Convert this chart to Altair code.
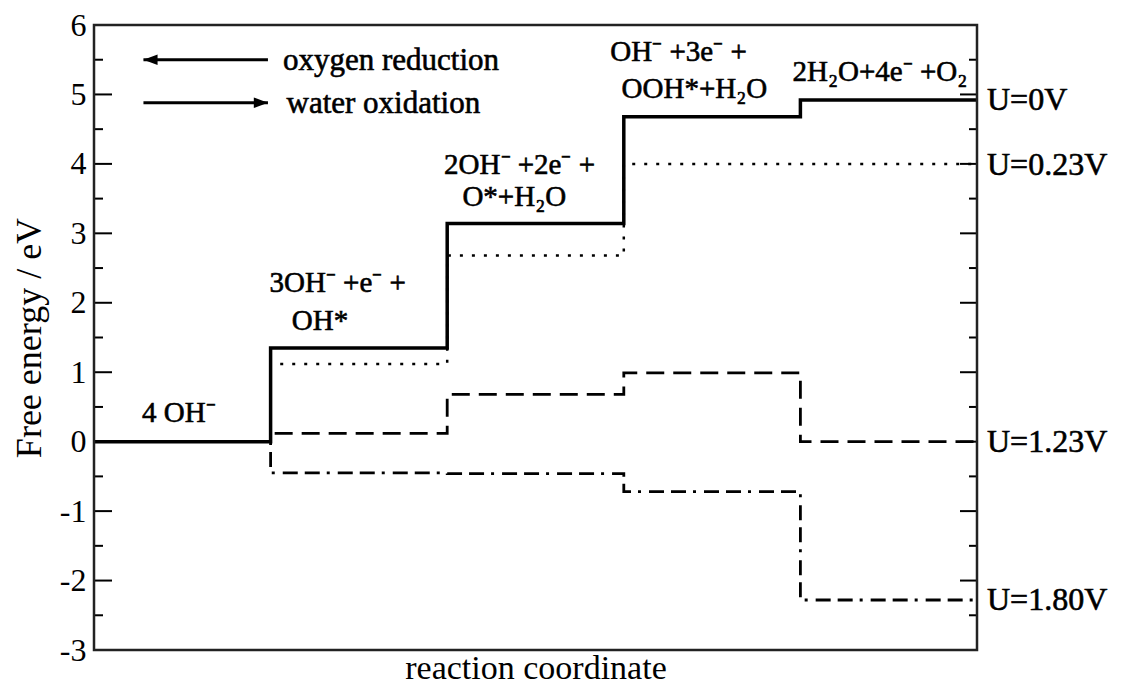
import altair as alt
import pandas as pd

# ---------------- data ----------------
steps = [0, 1, 2, 3, 4, 5]                    # reaction coordinate (step boundaries)
g_u0 = [0.0, 1.35, 3.14, 4.68, 4.92]          # U = 0 V
g_u023 = [0.0, 1.12, 2.68, 4.00, 4.00]        # U = 0.23 V
g_u123 = [0.0, 0.12, 0.68, 0.99, 0.00]        # U = 1.23 V
g_u180 = [0.0, -0.45, -0.46, -0.72, -2.28]    # U = 1.80 V

y_major = [-3, -2, -1, 0, 1, 2, 3, 4, 5, 6]
y_minor = [-2.5, -1.5, -0.5, 0.5, 1.5, 2.5, 3.5, 4.5, 5.5]

state_text = ["4 OH⁻", "3OH⁻ +e⁻ +", "OH*", "2OH⁻ +2e⁻ +", "O*+H₂O",
              "OH⁻ +3e⁻ +", "OOH*+H₂O", "2H₂O+4e⁻ +O₂"]
state_x = [0.48, 1.38, 1.28, 2.41, 2.38, 3.31, 3.40, 4.45]
state_y = [0.41, 2.28, 1.74, 3.98, 3.52, 5.61, 5.08, 5.33]

pot_text = ["U=0V", "U=0.23V", "U=1.23V", "U=1.80V"]
pot_y = [4.92, 3.98, 0.0, -2.28]

legend_text = ["oxygen reduction", "water oxidation"]
legend_y = [5.50, 4.88]

FONT = "Liberation Serif"
W, H = 883, 625

xs = alt.Scale(domain=[0, 5], nice=False, zero=False)
ys = alt.Scale(domain=[-3, 6], nice=False, zero=False)


def series_df(levels):
    return pd.DataFrame({"x": steps, "y": levels + [levels[-1]]})


def step_line(levels, dash, width):
    kw = dict(interpolate="step-after", color="black", strokeWidth=width, strokeCap="butt")
    if dash:
        kw["strokeDash"] = dash
    return alt.Chart(series_df(levels)).mark_line(**kw).encode(
        x=alt.X("x:Q", scale=xs,
                axis=alt.Axis(title="reaction coordinate", labels=False, ticks=False,
                              domain=False, grid=False, titleFont=FONT,
                              titleFontSize=34, titleFontWeight="normal",
                              titleColor="black", titlePadding=1)),
        y=alt.Y("y:Q", scale=ys,
                axis=alt.Axis(title="Free energy / eV", values=y_major, ticks=False,
                              domain=False, grid=False, labelFont=FONT,
                              labelFontSize=32, labelColor="black", labelPadding=8,
                              labelExpr="toString(datum.value)",
                              titleFont=FONT, titleFontSize=36,
                              titleFontWeight="normal", titleColor="black",
                              titlePadding=11)),
    )


l180 = step_line(g_u180, [15, 7, 15, 7, 3, 8], 2.8)
l123 = step_line(g_u123, [18, 9], 2.8)
l023 = step_line(g_u023, [3, 9], 2.5)
l0 = step_line(g_u0, None, 3.5)

# plot frame
frame = alt.Chart(pd.DataFrame({"k": [0]})).mark_rect(
    fill=None, stroke="#222222", strokeWidth=2.5
).encode(x=alt.value(0), x2=alt.value(W), y=alt.value(0), y2=alt.value(H))

# inward ticks on both vertical sides
maj = pd.DataFrame({"v": y_major})
mnr = pd.DataFrame({"v": y_minor})
ticks = (
    alt.Chart(maj).mark_rule(color="black", strokeWidth=2).encode(
        y=alt.Y("v:Q", scale=ys), x=alt.value(0), x2=alt.value(18))
    + alt.Chart(mnr).mark_rule(color="black", strokeWidth=2).encode(
        y=alt.Y("v:Q", scale=ys), x=alt.value(0), x2=alt.value(9))
    + alt.Chart(maj).mark_rule(color="black", strokeWidth=2).encode(
        y=alt.Y("v:Q", scale=ys), x=alt.value(W - 17), x2=alt.value(W))
    + alt.Chart(mnr).mark_rule(color="black", strokeWidth=2).encode(
        y=alt.Y("v:Q", scale=ys), x=alt.value(W - 8), x2=alt.value(W))
)

# legend arrows
arr = pd.DataFrame({"x0": [0.28, 0.28], "x1": [0.985, 0.985], "y": legend_y})
arrow_lines = alt.Chart(arr).mark_rule(color="black", strokeWidth=3).encode(
    x=alt.X("x0:Q", scale=xs), x2="x1:Q", y=alt.Y("y:Q", scale=ys))
head_l = alt.Chart(pd.DataFrame({"x": [0.32], "y": [legend_y[0]]})).mark_point(
    shape="M -1 0 L 1 -0.75 L 1 0.75 Z", filled=True, color="black", size=200, opacity=1
).encode(x=alt.X("x:Q", scale=xs), y=alt.Y("y:Q", scale=ys))
head_r = alt.Chart(pd.DataFrame({"x": [0.945], "y": [legend_y[1]]})).mark_point(
    shape="M 1 0 L -1 -0.75 L -1 0.75 Z", filled=True, color="black", size=200, opacity=1
).encode(x=alt.X("x:Q", scale=xs), y=alt.Y("y:Q", scale=ys))

TXT = dict(font=FONT, color="black", stroke="black", strokeWidth=0.6)

leg_txt = alt.Chart(pd.DataFrame({"t": legend_text, "x": [1.07, 1.09], "y": legend_y})).mark_text(
    fontSize=31, align="left", baseline="middle", dy=1, **TXT
).encode(x=alt.X("x:Q", scale=xs), y=alt.Y("y:Q", scale=ys), text="t:N")

state_lbl = alt.Chart(pd.DataFrame({"t": state_text, "x": state_x, "y": state_y})).mark_text(
    fontSize=29, align="center", baseline="middle", **TXT
).encode(x=alt.X("x:Q", scale=xs), y=alt.Y("y:Q", scale=ys), text="t:N")

pot_lbl = alt.Chart(pd.DataFrame({"t": pot_text, "x": [5.0] * 4, "y": pot_y})).mark_text(
    fontSize=32, align="left", baseline="middle", dx=10, **TXT
).encode(x=alt.X("x:Q", scale=xs), y=alt.Y("y:Q", scale=ys), text="t:N")

chart = alt.layer(
    l180, l123, l023, l0, ticks, frame, arrow_lines, head_l, head_r,
    leg_txt, state_lbl, pot_lbl
).properties(
    width=W, height=H,
    background="white",
    autosize=alt.AutoSizeParams(type="none"),
    padding={"left": 86, "top": 17, "right": 137, "bottom": 34},
).configure_view(
    stroke=None
)

chart.save("out.html", embed_options={"renderer": "svg", "actions": False})
